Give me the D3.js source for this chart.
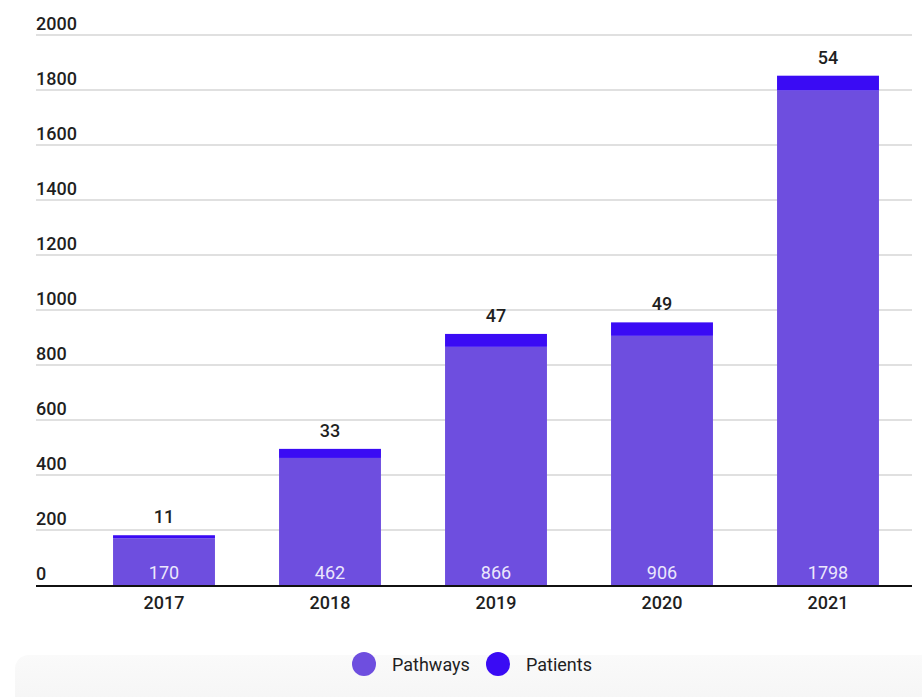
<!DOCTYPE html>
<html>
<head>
<meta charset="utf-8">
<script src="https://cdn.jsdelivr.net/npm/d3@7"></script>
<style>
  html, body { margin: 0; padding: 0; background: #fff; }
  svg { display: block; font-family: Roboto, "Noto Sans", sans-serif; }
</style>
</head>
<body>
<svg id="chart" width="922" height="697"></svg>
<script>
// Yearly counts
const years = ["2017", "2018", "2019", "2020", "2021"];
const pathways = [170, 462, 866, 906, 1798];
const patients = [11, 33, 47, 49, 54];
const yTicks = [0, 200, 400, 600, 800, 1000, 1200, 1400, 1600, 1800, 2000];
const seriesNames = ["Pathways", "Patients"];
const seriesColors = ["#6e4edf", "#3a0bf4"];

const svg = d3.select("#chart");

// Footer band behind the legend
const defs = svg.append("defs");
const grad = defs.append("linearGradient").attr("id", "footer").attr("x1", 0).attr("y1", 0).attr("x2", 0).attr("y2", 1);
grad.append("stop").attr("offset", "0%").attr("stop-color", "#fafafa");
grad.append("stop").attr("offset", "100%").attr("stop-color", "#f2f2f2");
svg.append("rect")
  .attr("x", 15).attr("y", 655).attr("width", 940).attr("height", 80)
  .attr("rx", 14).attr("fill", "url(#footer)");

const gridLeft = 36, gridRight = 912;
const y = d3.scaleLinear().domain([0, 2000]).range([585, 35]);
const x = d3.scaleBand().domain(years).range([81, 911]).paddingInner(0.386).paddingOuter(0.193);

// Horizontal gridlines with labels sitting above them
const grid = svg.append("g");
grid.selectAll("line").data(yTicks.filter(d => d > 0)).join("line")
  .attr("x1", gridLeft).attr("x2", gridRight)
  .attr("y1", d => y(d)).attr("y2", d => y(d))
  .attr("stroke", "#d6d6d6").attr("stroke-width", 1.5);
grid.selectAll("text").data(yTicks).join("text")
  .attr("x", gridLeft).attr("y", d => y(d) - 5)
  .attr("font-size", 18).attr("font-weight", 500).attr("fill", "#1f1f1f")
  .text(d => d);

// Stacked bars
const stacked = years.map((yr, i) => ({ year: yr, p: pathways[i], q: patients[i] }));
const bars = svg.append("g");
bars.selectAll("rect.pw").data(stacked).join("rect")
  .attr("class", "pw")
  .attr("x", d => x(d.year)).attr("width", x.bandwidth())
  .attr("y", d => y(d.p)).attr("height", d => y(0) - y(d.p))
  .attr("fill", seriesColors[0]);
bars.selectAll("rect.pt").data(stacked).join("rect")
  .attr("class", "pt")
  .attr("x", d => x(d.year)).attr("width", x.bandwidth())
  .attr("y", d => y(d.p + d.q)).attr("height", d => y(d.p) - y(d.p + d.q))
  .attr("fill", seriesColors[1]);

// Value labels
bars.selectAll("text.pwv").data(stacked).join("text")
  .attr("class", "pwv")
  .attr("x", d => x(d.year) + x.bandwidth() / 2).attr("y", y(0) - 6)
  .attr("text-anchor", "middle").attr("font-size", 18).attr("fill", "#ebe7fc")
  .text(d => d.p);
bars.selectAll("text.ptv").data(stacked).join("text")
  .attr("class", "ptv")
  .attr("x", d => x(d.year) + x.bandwidth() / 2).attr("y", d => y(d.p + d.q) - 12)
  .attr("text-anchor", "middle").attr("font-size", 18).attr("font-weight", 500).attr("fill", "#1f1f1f")
  .text(d => d.q);

// Baseline and category axis
svg.append("line")
  .attr("x1", gridLeft).attr("x2", gridRight)
  .attr("y1", y(0) + 1).attr("y2", y(0) + 1)
  .attr("stroke", "#111").attr("stroke-width", 2.2);
const xAxis = svg.append("g").attr("transform", `translate(0,${y(0) + 2})`)
  .call(d3.axisBottom(x).tickSize(0).tickPadding(9));
xAxis.select(".domain").remove();
xAxis.selectAll("text")
  .attr("font-size", 18).attr("font-weight", 500).attr("fill", "#1f1f1f")
  .attr("font-family", "Roboto, sans-serif");

// Legend
const legendX = [364, 498];
const legend = svg.append("g");
seriesNames.forEach((name, i) => {
  legend.append("circle").attr("cx", legendX[i]).attr("cy", 664).attr("r", 12).attr("fill", seriesColors[i]);
  legend.append("text").attr("x", legendX[i] + 28).attr("y", 671)
    .attr("font-size", 18).attr("fill", "#1f1f1f").text(name);
});
</script>
</body>
</html>
